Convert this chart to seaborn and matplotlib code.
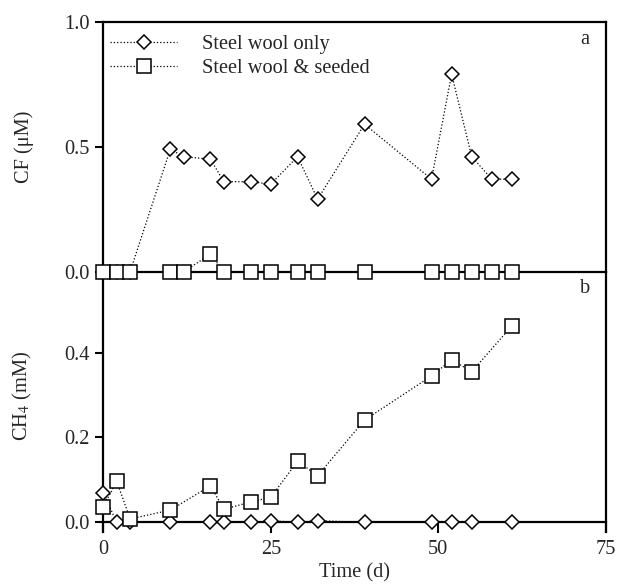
import matplotlib
matplotlib.use("Agg")
import matplotlib.pyplot as plt
import seaborn as sns
import pandas as pd

# ---- data ----
days_cf = [0, 2, 4, 10, 12, 16, 18, 22, 25, 29, 32, 39, 49, 52, 55, 58, 61]
cf_steel_only = [0, 0, 0, 0.49, 0.46, 0.45, 0.36, 0.36, 0.35, 0.46, 0.29, 0.59, 0.37, 0.79, 0.46, 0.37, 0.37]
cf_seeded = [0, 0, 0, 0, 0, 0.07, 0, 0, 0, 0, 0, 0, 0, 0, 0, 0, 0]

days_ch4 = [0, 2, 4, 10, 16, 18, 22, 25, 29, 32, 39, 49, 52, 55, 61]
ch4_steel_only = [0.07, 0, 0, 0, 0, 0, 0, 0.004, 0, 0.004, 0, 0, 0, 0, 0]
ch4_seeded = [0.037, 0.097, 0.008, 0.029, 0.086, 0.031, 0.048, 0.059, 0.144, 0.11, 0.241, 0.345, 0.383, 0.355, 0.463]

labels = ["Steel wool only", "Steel wool & seeded"]
cf_yticks = [0.0, 0.5, 1.0]
ch4_yticks = [0.0, 0.2, 0.4]
xticks = [0, 25, 50, 75]

FS = 14.7

sns.set_style("ticks")
plt.rcParams["font.family"] = ["Liberation Serif", "DejaVu Serif"]
plt.rcParams["mathtext.fontset"] = "stix"
plt.rcParams["font.size"] = FS

fig = plt.figure(figsize=(6.18, 5.84), dpi=100, facecolor="white")
L, R = 103.3 / 618, 605.7 / 618
ax2 = fig.add_axes([L, 1 - 531.7 / 584, R - L, 260 / 584])
ax1 = fig.add_axes([L, 1 - 271.7 / 584, R - L, 250 / 584])
ax1.set_zorder(ax2.get_zorder() + 1)
ax1.patch.set_visible(False)
ax2.patch.set_visible(False)

common = dict(color="black", linestyle=":", linewidth=0.9, mfc="white",
              mec="black", mew=1.1, estimator=None, sort=False)

df1 = pd.DataFrame({"t": days_cf, "a": cf_steel_only, "b": cf_seeded})
df2 = pd.DataFrame({"t": days_ch4, "a": ch4_steel_only, "b": ch4_seeded})

sns.lineplot(data=df1, x="t", y="a", ax=ax1, marker="D", ms=7.5, label=labels[0], zorder=3, clip_on=False, **common)
sns.lineplot(data=df1, x="t", y="b", ax=ax1, marker="s", ms=10.5, label=labels[1], zorder=4, clip_on=False, **common)
sns.lineplot(data=df2, x="t", y="a", ax=ax2, marker="D", ms=7.5, zorder=3, clip_on=False, **common)
sns.lineplot(data=df2, x="t", y="b", ax=ax2, marker="s", ms=10.5, zorder=4, clip_on=False, **common)

for ax in (ax1, ax2):
    ax.set_xlim(0, 75)
    for s in ax.spines.values():
        s.set_linewidth(1.6)
        s.set_color("black")
    ax.tick_params(axis="both", width=1.5, length=6, color="black", labelsize=FS, pad=4)

ax1.set_ylim(0, 1.0)
ax1.set_yticks(cf_yticks)
ax1.set_yticklabels([f"{v:.1f}" for v in cf_yticks])
ax1.set_xticks([])
ax1.set_xlabel("")
ax1.set_ylabel("CF (\u03bcM)", fontsize=FS)
ax1.yaxis.set_label_coords(-0.138, 0.5)

ax2.set_ylim(-0.022, 0.5906)
ax2.set_yticks(ch4_yticks)
ax2.set_yticklabels([f"{v:.1f}" for v in ch4_yticks])
ax2.set_xticks(xticks)
ax2.spines["top"].set_visible(False)
ax2.spines["bottom"].set_position(("data", 0))
ax2.tick_params(axis="x", length=8, pad=5)
ax2.set_ylabel("CH$_4$ (mM)", fontsize=FS)
ax2.yaxis.set_label_coords(-0.138, 0.522)
ax2.set_xlabel("Time (d)", fontsize=FS, labelpad=3)

ax1.text(0.959, 0.928, "a", transform=ax1.transAxes, ha="center", va="center", fontsize=FS)
ax2.text(0.959, 0.937, "b", transform=ax2.transAxes, ha="center", va="center", fontsize=FS)

ax1.legend(loc="upper left", bbox_to_anchor=(0.013, 0.948), frameon=False,
           handlelength=3.3, handletextpad=1.2, labelspacing=0.25,
           borderpad=0, borderaxespad=0, numpoints=1, fontsize=FS)
if ax2.get_legend() is not None:
    ax2.get_legend().remove()

fig.savefig("out.png", dpi=100, facecolor="white")
